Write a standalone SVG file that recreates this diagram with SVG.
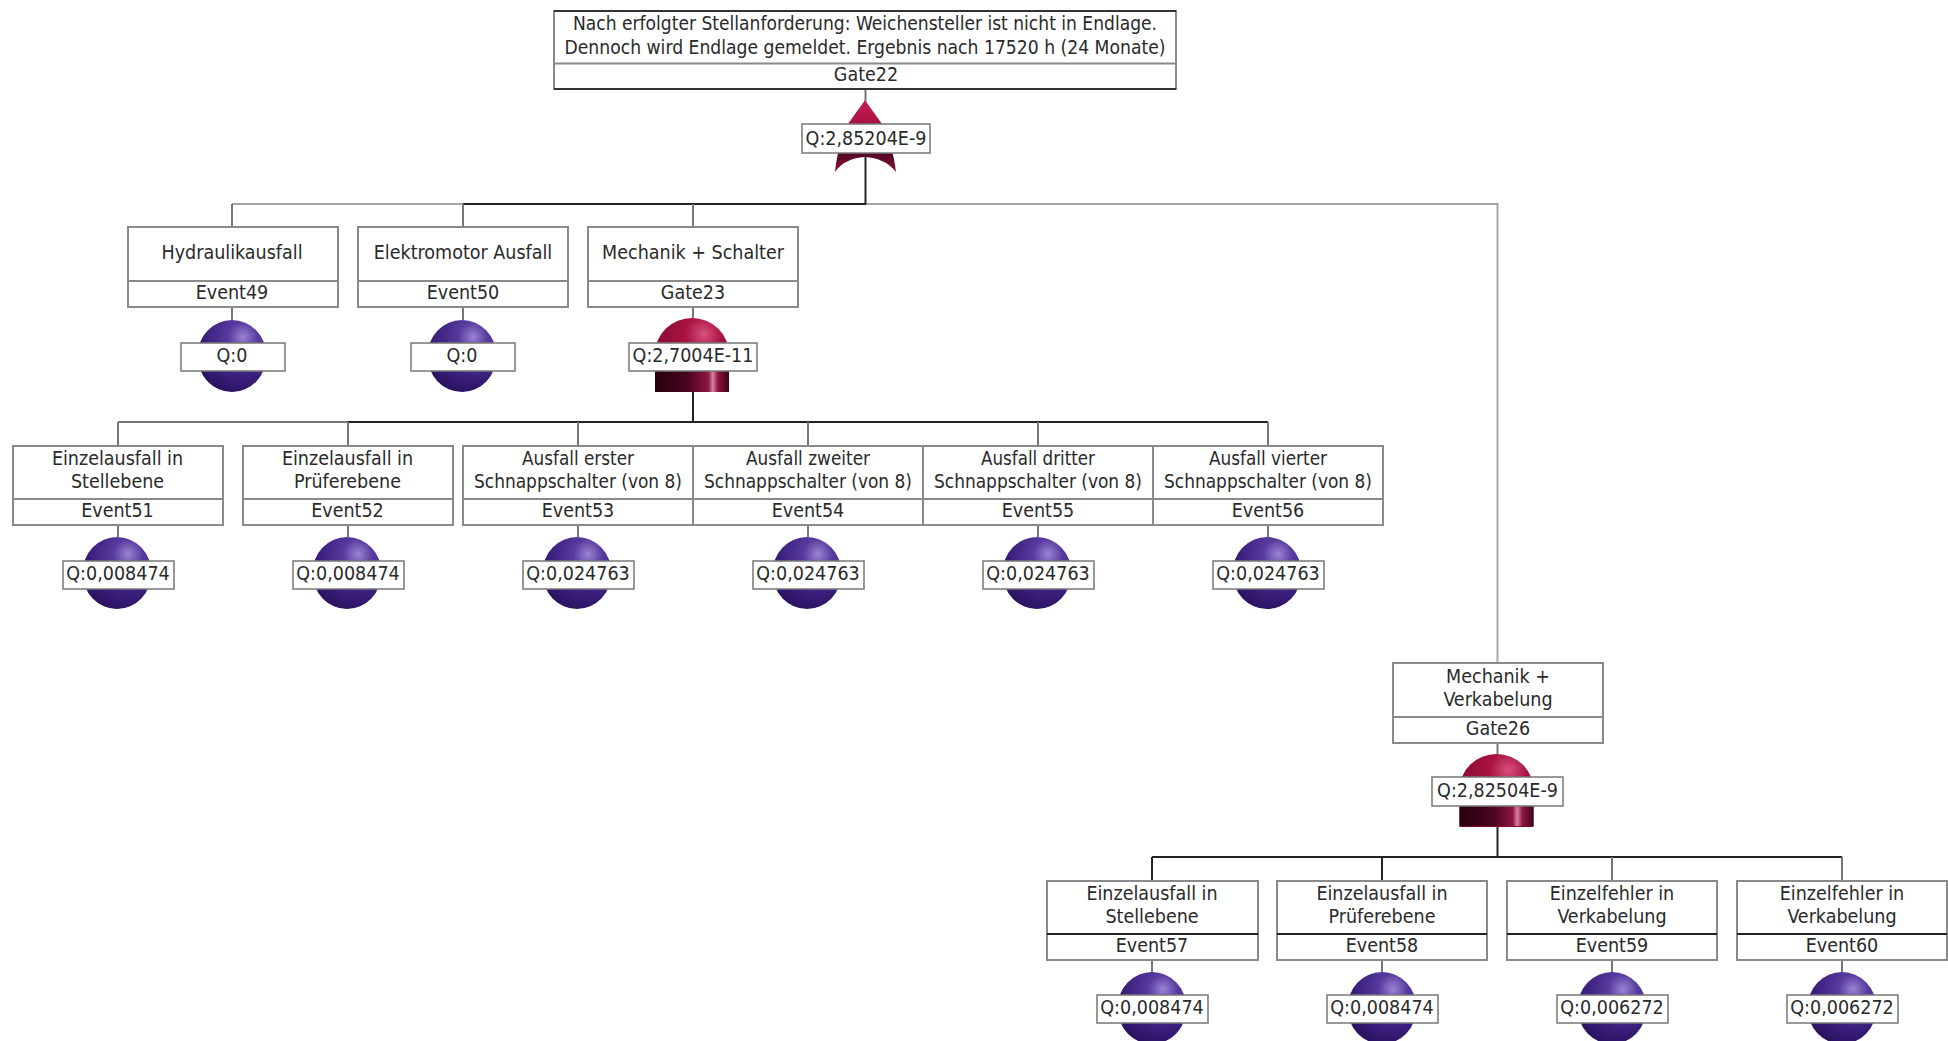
<svg xmlns="http://www.w3.org/2000/svg" width="1948" height="1041" viewBox="0 0 1948 1041">
<style>
text{font-family:"DejaVu Sans Condensed","DejaVu Sans",sans-serif;font-stretch:condensed;font-size:19.5px;fill:#2a2a2a;text-anchor:middle}
.b{fill:#fff;stroke:#8a8a8a;stroke-width:2}
.d{stroke:#8a8a8a;stroke-width:2}
.q{fill:#fff;stroke:#777;stroke-width:1.5}
.c{fill:none;stroke-width:2}
.g{stroke:#a6a6a6}
.m{stroke:#777}
.n{stroke:#222}
</style>
<defs>
<radialGradient id="sph" cx="0.66" cy="0.24" r="0.85">
<stop offset="0" stop-color="#9a84d4"/><stop offset="0.25" stop-color="#573a9e"/><stop offset="0.7" stop-color="#371c78"/><stop offset="1" stop-color="#26105a"/>
</radialGradient>
<radialGradient id="dome" cx="0.66" cy="0.22" r="0.85">
<stop offset="0" stop-color="#d8507e"/><stop offset="0.3" stop-color="#a8123f"/><stop offset="1" stop-color="#7e0a32"/>
</radialGradient>
<linearGradient id="base">
<stop offset="0" stop-color="#26000e"/><stop offset="0.45" stop-color="#4a0520"/><stop offset="0.72" stop-color="#8f1544"/><stop offset="0.78" stop-color="#d8839f"/><stop offset="0.85" stop-color="#8f1544"/><stop offset="1" stop-color="#3a0418"/>
</linearGradient>
<linearGradient id="horn" x1="0" y1="0" x2="0" y2="1">
<stop offset="0" stop-color="#c82058"/><stop offset="0.33" stop-color="#a8123f"/><stop offset="0.7" stop-color="#4a0520"/><stop offset="1" stop-color="#8a0f3c"/>
</linearGradient>
<g id="event"><ellipse cx="0" cy="0" rx="34.500" ry="36" fill="url(#sph)"/></g>
<g id="and"><path d="M-37 37V0A37 36 0 0 1 37 0V37Z" fill="url(#dome)"/></g>
</defs>

<g id="connectors">
<path class="c g" d="M232 204H463M866 204H1497.500V663"/>
<path class="c n" d="M463 204H866"/>
<path class="c m" d="M232 204V227M463 204V227M693 204V227"/>
<path class="c m" d="M865.500 90V102"/>
<path class="c n" d="M865.500 153V204"/>
<path class="c m" d="M232 307V320M463 307V320M693 307V318"/>
<path class="c n" d="M693 392V421"/>
<path class="c m" d="M118 422H348"/>
<path class="c n" d="M348 422H1268"/>
<path class="c m" d="M118 422V445M348 422V445M578 422V445M808 422V445M1038 422V445M1268 422V445"/>
<path class="c m" d="M118 525V537M348 525V537M578 525V537M808 525V537M1038 525V537M1268 525V537"/>
<path class="c m" d="M1497.500 743V754"/>
<path class="c n" d="M1497.500 826V857M1152 857H1842"/>
<path class="c n" d="M1152 857V881M1382 857V881"/>
<path class="c m" d="M1612 857V881M1842 857V881"/>
<path class="c m" d="M1152 960V973M1382 960V973M1612 960V973M1842 960V973"/>
</g>

<g id="Gate22">
<rect class="b" x="554" y="11" width="622" height="78"/>
<path d="M554 11H1176M554 89H1176" stroke="#333" stroke-width="2"/>
<path class="d" d="M554 63.500H1176"/>
<text x="865" y="30" textLength="584" lengthAdjust="spacingAndGlyphs">Nach erfolgter Stellanforderung: Weichensteller ist nicht in Endlage.</text>
<text x="865" y="54" textLength="601" lengthAdjust="spacingAndGlyphs">Dennoch wird Endlage gemeldet. Ergebnis nach 17520 h (24 Monate)</text>
<text x="866" y="81">Gate22</text>
<path d="M865 100C872 110 878 118 882 124C889 136 894 155 896 172C888 162 878 158 865 157C852 158 842 162 835 172C837 155 841 136 848 124C852 118 858 110 865 100Z" fill="url(#horn)"/>
<rect class="q" x="802" y="124" width="128" height="29"/>
<text x="866" y="145">Q:2,85204E-9</text>
</g>

<g id="Event49">
<rect class="b" x="128" y="227" width="210" height="80"/><path class="d" d="M128 281H338"/>
<text x="232" y="259">Hydraulikausfall</text><text x="232" y="299">Event49</text>
<use href="#event" x="232" y="356"/>
<rect class="q" x="181" y="343" width="104" height="28"/><text x="232" y="362">Q:0</text>
</g>
<g id="Event50">
<rect class="b" x="358" y="227" width="210" height="80"/><path class="d" d="M358 281H568"/>
<text x="463" y="259">Elektromotor Ausfall</text><text x="463" y="299">Event50</text>
<use href="#event" x="462" y="356"/>
<rect class="q" x="411" y="343" width="104" height="28"/><text x="462" y="362">Q:0</text>
</g>
<g id="Gate23">
<rect class="b" x="588" y="227" width="210" height="80"/><path class="d" d="M588 281H798"/>
<text x="693" y="259">Mechanik + Schalter</text><text x="693" y="299">Gate23</text>
<use href="#and" x="692" y="354"/>
<rect x="655" y="371" width="74" height="21" fill="url(#base)"/>
<rect class="q" x="629" y="343" width="128" height="28"/><text x="693" y="362">Q:2,7004E-11</text>
</g>

<g id="Event51">
<rect class="b" x="13" y="446" width="210" height="79"/><path class="d" d="M13 499H223"/>
<text x="117.500" y="465">Einzelausfall in</text><text x="117.500" y="488">Stellebene</text><text x="117.500" y="517">Event51</text>
<use href="#event" x="117" y="573"/>
<rect class="q" x="63" y="561" width="111" height="28"/><text x="118" y="580">Q:0,008474</text>
</g>
<g id="Event52">
<rect class="b" x="243" y="446" width="210" height="79"/><path class="d" d="M243 499H453"/>
<text x="347.500" y="465">Einzelausfall in</text><text x="347.500" y="488">Prüferebene</text><text x="347.500" y="517">Event52</text>
<use href="#event" x="347" y="573"/>
<rect class="q" x="293" y="561" width="111" height="28"/><text x="348" y="580">Q:0,008474</text>
</g>
<g id="Event53">
<rect class="b" x="463" y="446" width="230" height="79"/><path class="d" d="M463 499H693"/>
<text x="578" y="465" textLength="112" lengthAdjust="spacingAndGlyphs">Ausfall erster</text><text x="578" y="488" textLength="208" lengthAdjust="spacingAndGlyphs">Schnappschalter (von 8)</text><text x="578" y="517">Event53</text>
<use href="#event" x="577" y="573"/>
<rect class="q" x="523" y="561" width="111" height="28"/><text x="578" y="580">Q:0,024763</text>
</g>
<g id="Event54">
<rect class="b" x="693" y="446" width="230" height="79"/><path class="d" d="M693 499H923"/>
<text x="808" y="465" textLength="124" lengthAdjust="spacingAndGlyphs">Ausfall zweiter</text><text x="808" y="488" textLength="208" lengthAdjust="spacingAndGlyphs">Schnappschalter (von 8)</text><text x="808" y="517">Event54</text>
<use href="#event" x="807" y="573"/>
<rect class="q" x="753" y="561" width="111" height="28"/><text x="808" y="580">Q:0,024763</text>
</g>
<g id="Event55">
<rect class="b" x="923" y="446" width="230" height="79"/><path class="d" d="M923 499H1153"/>
<text x="1038" y="465" textLength="114" lengthAdjust="spacingAndGlyphs">Ausfall dritter</text><text x="1038" y="488" textLength="208" lengthAdjust="spacingAndGlyphs">Schnappschalter (von 8)</text><text x="1038" y="517">Event55</text>
<use href="#event" x="1037" y="573"/>
<rect class="q" x="983" y="561" width="111" height="28"/><text x="1038" y="580">Q:0,024763</text>
</g>
<g id="Event56">
<rect class="b" x="1153" y="446" width="230" height="79"/><path class="d" d="M1153 499H1383"/>
<text x="1268" y="465" textLength="118" lengthAdjust="spacingAndGlyphs">Ausfall vierter</text><text x="1268" y="488" textLength="208" lengthAdjust="spacingAndGlyphs">Schnappschalter (von 8)</text><text x="1268" y="517">Event56</text>
<use href="#event" x="1267" y="573"/>
<rect class="q" x="1213" y="561" width="111" height="28"/><text x="1268" y="580">Q:0,024763</text>
</g>

<g id="Gate26">
<rect class="b" x="1393" y="663" width="210" height="80"/><path class="d" d="M1393 717H1603"/>
<text x="1498" y="683">Mechanik +</text><text x="1498" y="706">Verkabelung</text><text x="1498" y="735">Gate26</text>
<use href="#and" x="1496.500" y="790"/>
<rect x="1459.500" y="806" width="74" height="20" fill="url(#base)"/>
<rect class="q" x="1432" y="777" width="131" height="29"/><text x="1497.500" y="797">Q:2,82504E-9</text>
</g>

<g id="Event57">
<rect class="b" x="1047" y="881" width="211" height="79"/><path d="M1047 934H1258" stroke="#222" stroke-width="2"/>
<text x="1152" y="900">Einzelausfall in</text><text x="1152" y="923">Stellebene</text><text x="1152" y="952">Event57</text>
<use href="#event" x="1152" y="1008"/>
<rect class="q" x="1097" y="995" width="111" height="28"/><text x="1152" y="1014">Q:0,008474</text>
</g>
<g id="Event58">
<rect class="b" x="1277" y="881" width="210" height="79"/><path d="M1277 934H1487" stroke="#222" stroke-width="2"/>
<text x="1382" y="900">Einzelausfall in</text><text x="1382" y="923">Prüferebene</text><text x="1382" y="952">Event58</text>
<use href="#event" x="1382" y="1008"/>
<rect class="q" x="1327" y="995" width="111" height="28"/><text x="1382" y="1014">Q:0,008474</text>
</g>
<g id="Event59">
<rect class="b" x="1507" y="881" width="210" height="79"/><path d="M1507 934H1717" stroke="#222" stroke-width="2"/>
<text x="1612" y="900">Einzelfehler in</text><text x="1612" y="923">Verkabelung</text><text x="1612" y="952">Event59</text>
<use href="#event" x="1612" y="1008"/>
<rect class="q" x="1557" y="995" width="111" height="28"/><text x="1612" y="1014">Q:0,006272</text>
</g>
<g id="Event60">
<rect class="b" x="1737" y="881" width="210" height="79"/><path d="M1737 934H1947" stroke="#222" stroke-width="2"/>
<text x="1842" y="900">Einzelfehler in</text><text x="1842" y="923">Verkabelung</text><text x="1842" y="952">Event60</text>
<use href="#event" x="1842" y="1008"/>
<rect class="q" x="1787" y="995" width="111" height="28"/><text x="1842" y="1014">Q:0,006272</text>
</g>
</svg>
